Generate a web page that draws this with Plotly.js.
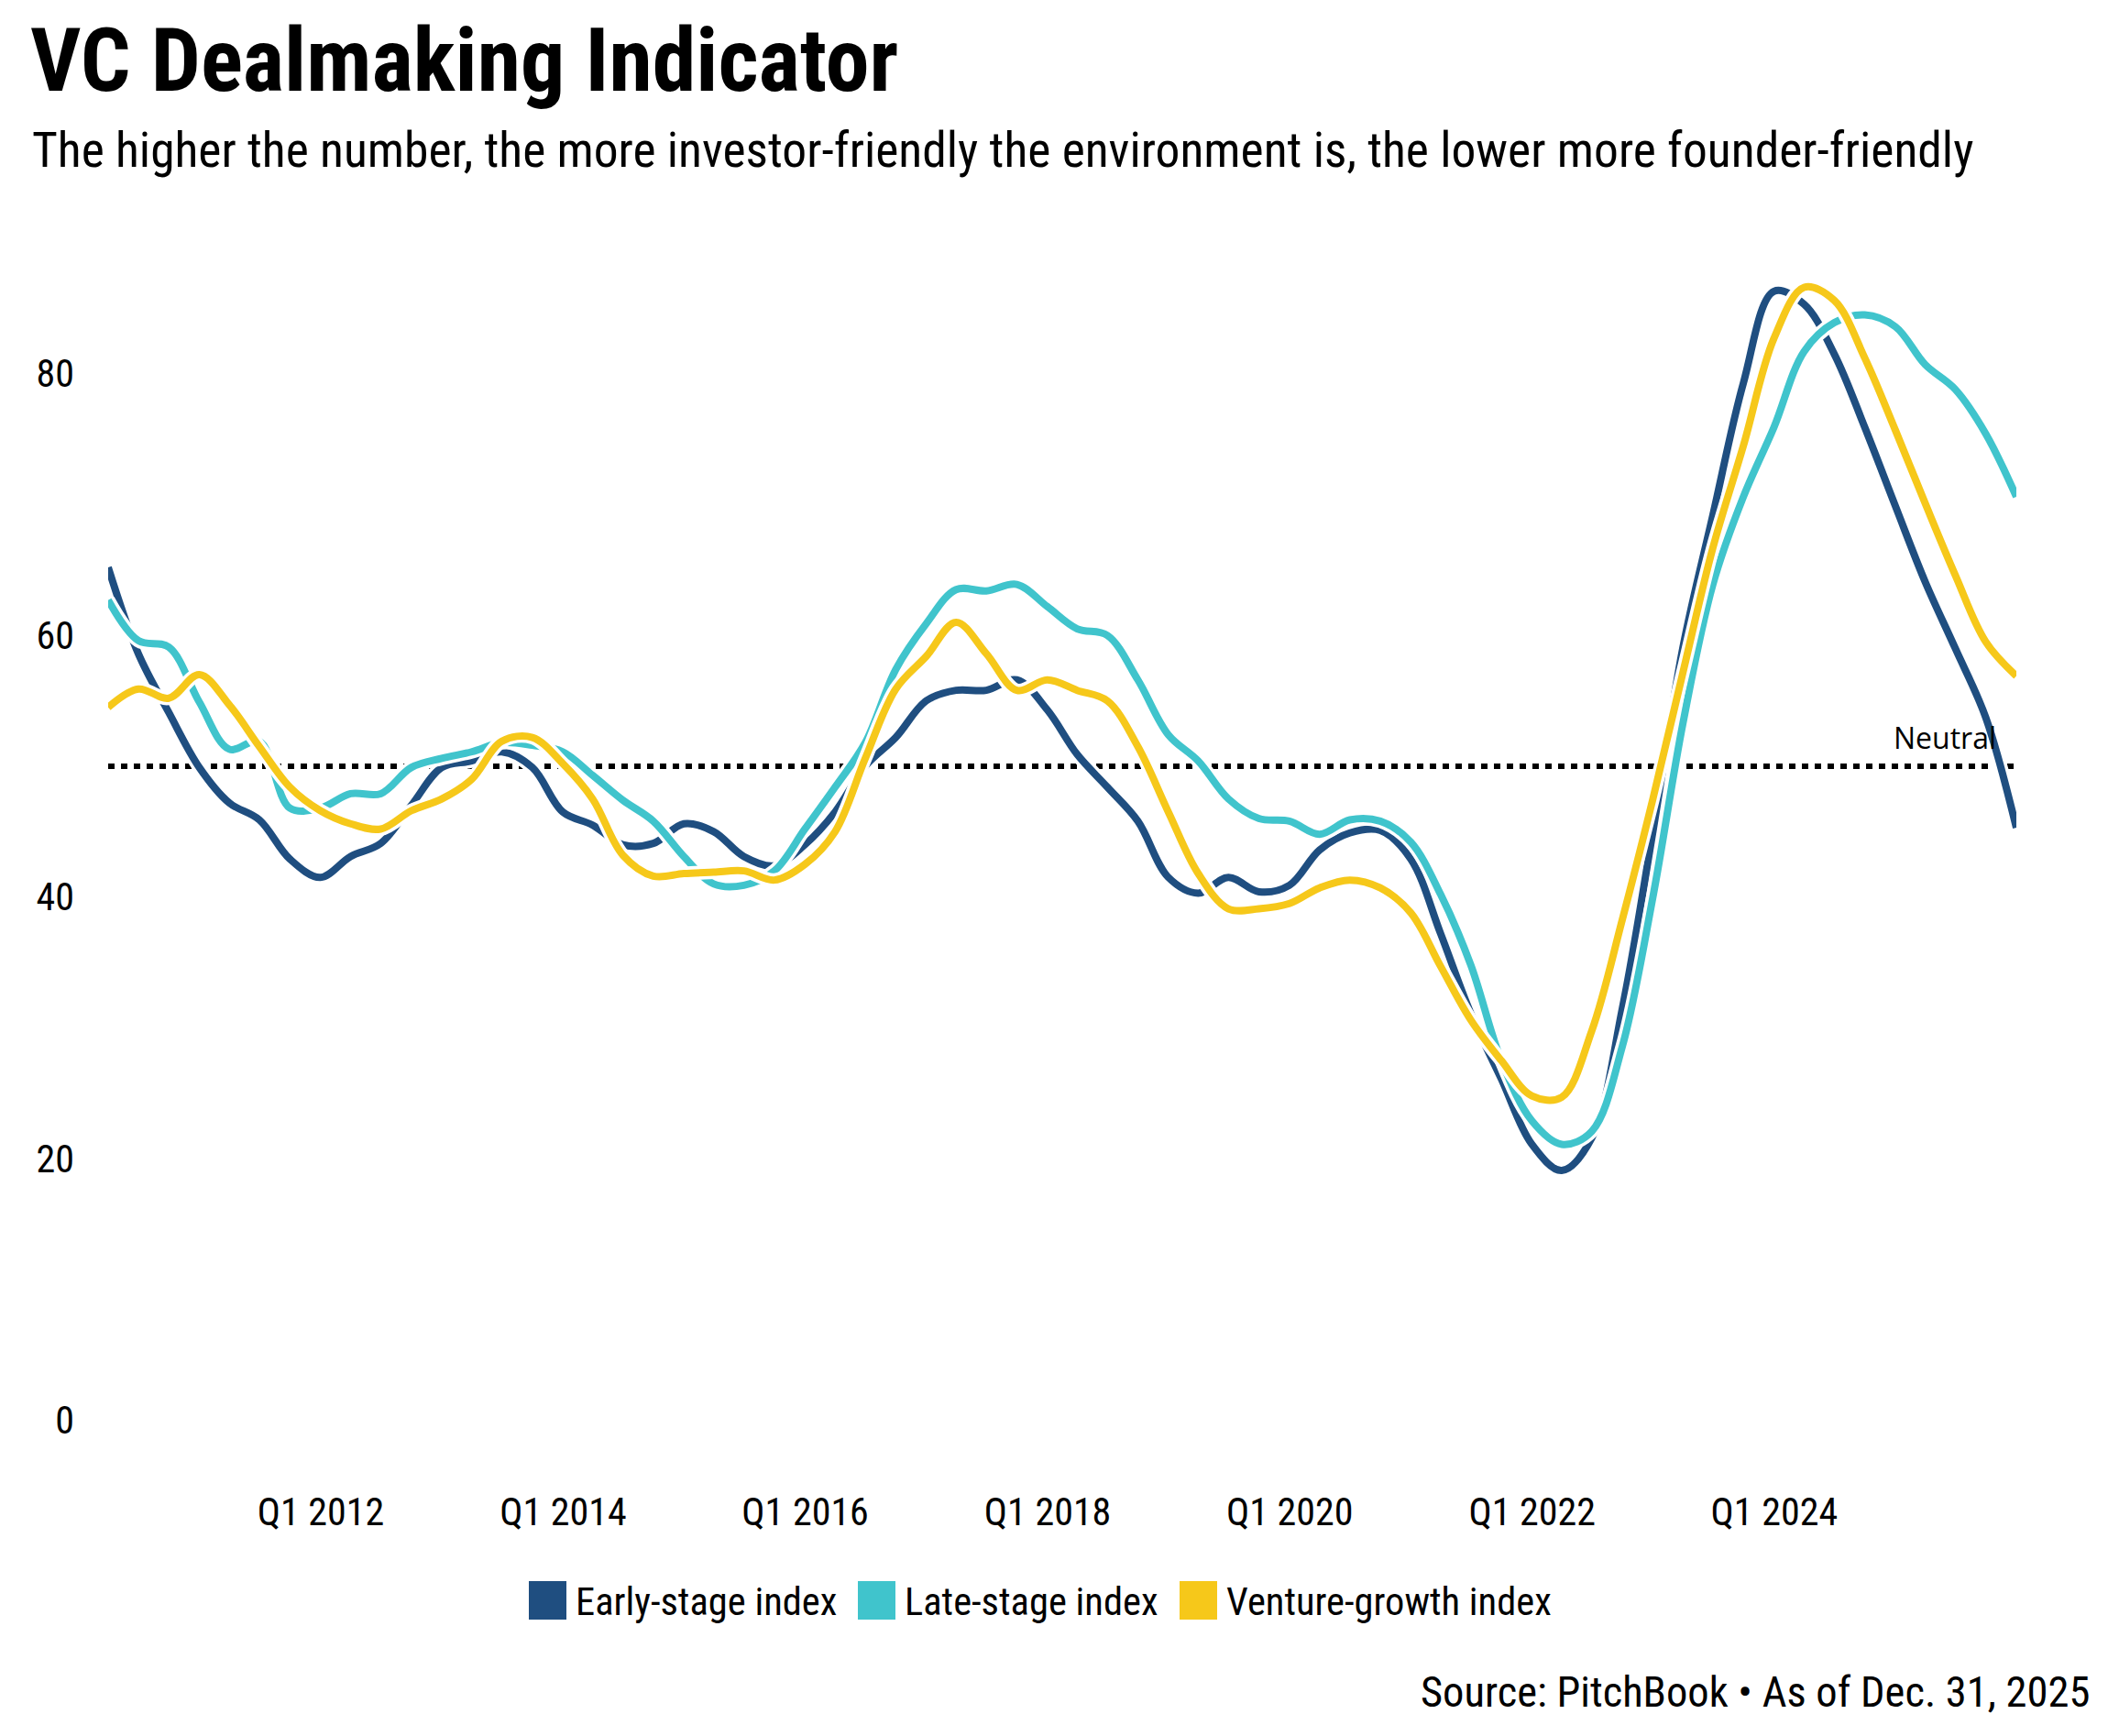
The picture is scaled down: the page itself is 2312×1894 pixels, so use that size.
<!DOCTYPE html>
<html>
<head>
<meta charset="utf-8">
<script src="https://cdn.plot.ly/plotly-3.0.1.min.js"></script>
<style>
  html, body { margin: 0; padding: 0; background: #ffffff; }
  #chart { width: 2312px; height: 1894px; }
</style>
</head>
<body>
<div id="chart"></div>
<script>
// Quarter-end dates, Q1 2010 .. Q4 2025
const quarters = [
  "2010-03-31","2010-06-30","2010-09-30","2010-12-31",
  "2011-03-31","2011-06-30","2011-09-30","2011-12-31",
  "2012-03-31","2012-06-30","2012-09-30","2012-12-31",
  "2013-03-31","2013-06-30","2013-09-30","2013-12-31",
  "2014-03-31","2014-06-30","2014-09-30","2014-12-31",
  "2015-03-31","2015-06-30","2015-09-30","2015-12-31",
  "2016-03-31","2016-06-30","2016-09-30","2016-12-31",
  "2017-03-31","2017-06-30","2017-09-30","2017-12-31",
  "2018-03-31","2018-06-30","2018-09-30","2018-12-31",
  "2019-03-31","2019-06-30","2019-09-30","2019-12-31",
  "2020-03-31","2020-06-30","2020-09-30","2020-12-31",
  "2021-03-31","2021-06-30","2021-09-30","2021-12-31",
  "2022-03-31","2022-06-30","2022-09-30","2022-12-31",
  "2023-03-31","2023-06-30","2023-09-30","2023-12-31",
  "2024-03-31","2024-06-30","2024-09-30","2024-12-31",
  "2025-03-31","2025-06-30","2025-09-30","2025-12-31"
];

const earlyStage = [65.2, 58.6, 54.1, 49.9, 47.2, 45.9, 42.9, 41.5, 43.1, 44.1,
  47.0, 49.9, 50.4, 51.1, 49.9, 46.5, 45.5, 44.0, 44.1, 45.6,
  45.0, 43.1, 42.4, 44.0, 46.5, 50.0, 52.2, 55.0, 55.8, 55.8,
  56.6, 54.3, 50.9, 48.4, 45.8, 41.5, 40.3, 41.5, 40.4, 40.9,
  43.6, 44.9, 45.1, 42.9, 37.2, 31.1, 26.1, 21.1, 19.1, 21.6,
  31.5, 45.0, 59.0, 69.2, 79.3, 86.3, 85.3, 81.5, 75.9, 69.9,
  64.1, 59.0, 53.7, 45.3];

const lateStage = [62.7, 59.6, 59.1, 54.9, 51.3, 51.9, 46.8, 46.8, 47.9, 47.9,
  49.9, 50.6, 51.1, 51.8, 51.6, 51.1, 49.3, 47.4, 45.8, 43.1,
  41.0, 40.9, 42.0, 45.2, 48.4, 51.8, 57.4, 60.9, 63.5, 63.4,
  63.9, 62.2, 60.5, 60.0, 56.6, 52.4, 50.4, 47.5, 46.0, 45.8,
  44.8, 45.9, 45.8, 44.2, 40.2, 34.8, 27.5, 22.9, 21.1, 22.1,
  28.6, 40.0, 53.2, 63.9, 70.6, 75.9, 81.7, 83.9, 84.5, 83.6,
  80.7, 78.8, 75.4, 70.6];

const ventureGrowth = [54.5, 55.9, 55.2, 57.0, 54.7, 51.5, 48.4, 46.6, 45.6, 45.2,
  46.6, 47.5, 49.0, 51.9, 52.2, 50.2, 47.5, 43.2, 41.6, 41.8,
  41.9, 42.0, 41.3, 42.5, 45.0, 50.6, 55.9, 58.4, 61.0, 58.6,
  55.8, 56.6, 55.8, 55.0, 51.5, 46.5, 41.8, 39.1, 39.1, 39.5,
  40.7, 41.3, 40.7, 38.8, 34.7, 30.6, 27.5, 24.8, 24.7, 29.8,
  38.3, 47.5, 57.1, 66.7, 74.5, 82.7, 86.6, 85.6, 81.2, 75.7,
  70.1, 64.6, 59.5, 56.9];

const seriesNames = ["Early-stage index", "Late-stage index", "Venture-growth index"];
const seriesColors = ["#1f4e80", "#40c4cc", "#f6c81a"];
const seriesValues = [earlyStage, lateStage, ventureGrowth];

const xTickVals = ["2012-01-01","2014-01-01","2016-01-01","2018-01-01","2020-01-01","2022-01-01","2024-01-01"];
const xTickText = ["Q1 2012","Q1 2014","Q1 2016","Q1 2018","Q1 2020","Q1 2022","Q1 2024"];
const yTickVals = [0, 20, 40, 60, 80];
const neutralValue = 50;

const FONT = "'Roboto Condensed', 'Liberation Sans Narrow', 'DejaVu Sans Condensed', Roboto, sans-serif";
const W = 2312, H = 1894;
const M = {l: 118, r: 112, t: 265, b: 273};
const plotW = W - M.l - M.r, plotH = H - M.t - M.b;
const px2x = p => (p - M.l) / plotW;
const py2y = p => (H - M.b - p) / plotH;

const traces = [];
seriesValues.forEach((vals, k) => {
  traces.push({
    x: quarters, y: vals, type: "scatter", mode: "lines",
    line: {color: "#ffffff", width: 15, shape: "spline", smoothing: 1},
    hoverinfo: "skip", showlegend: false
  });
  traces.push({
    x: quarters, y: vals, type: "scatter", mode: "lines", name: seriesNames[k],
    line: {color: seriesColors[k], width: 8, shape: "spline", smoothing: 1},
    showlegend: false
  });
});

const shapes = [{
  type: "line", xref: "paper", x0: 0, x1: 1, yref: "y", y0: neutralValue, y1: neutralValue,
  line: {color: "#000000", width: 6, dash: "7px,7px"}, layer: "below"
}];
const annotations = [
  {text: "The higher the number, the more investor-friendly the environment is, the lower more founder-friendly",
   xref: "paper", yref: "paper", x: px2x(33), y: py2y(163), xanchor: "left", yanchor: "middle",
   showarrow: false, font: {family: FONT, size: 53.5, color: "#000000"}},
  {text: "Source: PitchBook \u2022 As of Dec. 31, 2025",
   xref: "paper", yref: "paper", x: px2x(2282), y: py2y(1846), xanchor: "right", yanchor: "middle",
   showarrow: false, font: {family: FONT, size: 46.5, color: "#000000"}},
  {text: "Neutral", xref: "paper", yref: "y", x: px2x(2180), y: neutralValue, xanchor: "right", yanchor: "bottom",
   yshift: 8, showarrow: false, font: {family: "'Open Sans', sans-serif", size: 32, color: "#000000"}}
];

// Legend (square swatches + labels)
const legendSwatchX = [577, 936, 1287];
const legendY0 = 1725, legendY1 = 1767;
seriesNames.forEach((name, k) => {
  shapes.push({
    type: "rect", xref: "paper", yref: "paper",
    x0: px2x(legendSwatchX[k]), x1: px2x(legendSwatchX[k] + 41),
    y0: py2y(legendY1), y1: py2y(legendY0),
    fillcolor: seriesColors[k], line: {width: 0}
  });
  annotations.push({
    text: name, xref: "paper", yref: "paper",
    x: px2x(legendSwatchX[k] + 49), y: py2y(1748), xanchor: "left", yanchor: "middle",
    showarrow: false, font: {family: FONT, size: 42.5, color: "#000000"}
  });
});

const layout = {
  width: W, height: H,
  margin: M,
  paper_bgcolor: "#ffffff", plot_bgcolor: "#ffffff",
  showlegend: false,
  hovermode: false,
  title: {
    text: "<b>VC Dealmaking Indicator</b>",
    xref: "container", yref: "container",
    x: 33 / W, xanchor: "left", y: 1 - 65 / H, yanchor: "middle",
    font: {family: FONT, size: 96, color: "#000000"}
  },
  xaxis: {
    type: "date",
    range: [quarters[0], quarters[quarters.length - 1]],
    tickvals: xTickVals, ticktext: xTickText,
    showgrid: false, zeroline: false, showline: false, ticks: "",
    ticklabelstandoff: 0,
    tickfont: {family: FONT, size: 42, color: "#000000"}
  },
  yaxis: {
    range: [-5, 90],
    tickvals: yTickVals,
    showgrid: false, zeroline: false, showline: false, ticks: "",
    ticklabelstandoff: 36,
    tickfont: {family: FONT, size: 42, color: "#000000"}
  },
  shapes: shapes,
  annotations: annotations
};

Plotly.newPlot("chart", traces, layout, {displayModeBar: false, staticPlot: true});
</script>
</body>
</html>
